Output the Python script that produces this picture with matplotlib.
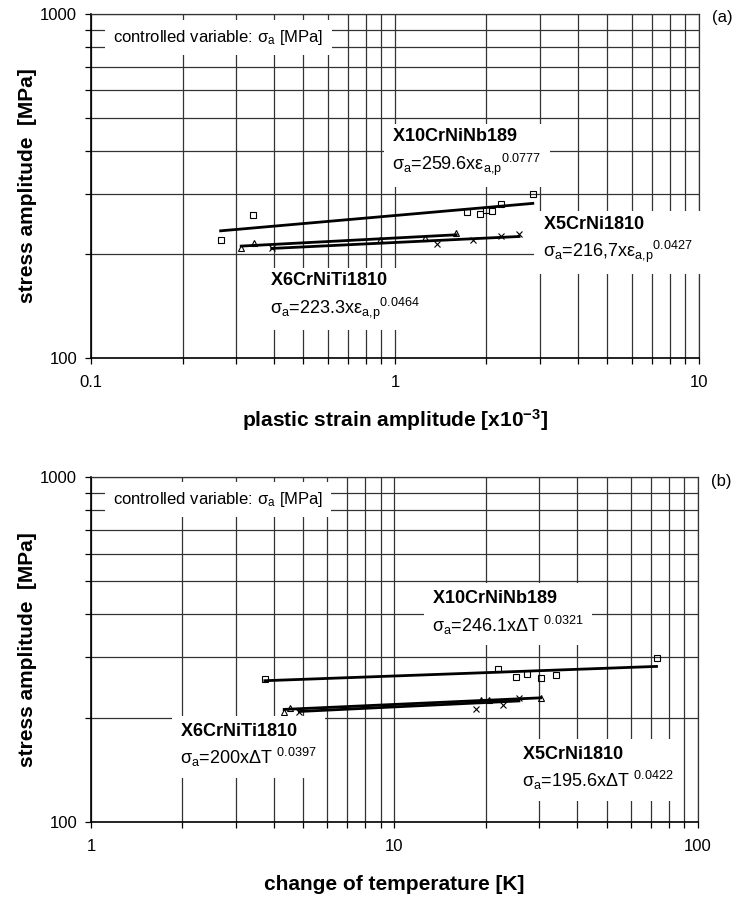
import numpy as np
import matplotlib
matplotlib.use("Agg")
import matplotlib.pyplot as plt
from matplotlib.ticker import LogLocator, FuncFormatter, NullFormatter

plt.rcParams['font.family'] = ['Liberation Sans', 'DejaVu Sans']
plt.rcParams['mathtext.fontset'] = 'custom'
plt.rcParams['mathtext.rm'] = 'Liberation Sans'
plt.rcParams['mathtext.it'] = 'Liberation Sans'
plt.rcParams['mathtext.bf'] = 'Liberation Sans:bold'
plt.rcParams['mathtext.default'] = 'regular'

# (a) stress amplitude [MPa] vs plastic strain amplitude [x10^-3]
nb_eps = [0.267, 0.340, 1.72, 1.91, 2.00, 2.08, 2.23, 2.84]
nb_sig_a = [220, 261, 265, 263, 270, 268, 281, 300]
ti_eps = [0.312, 0.344, 0.895, 1.255, 1.59]
ti_sig_a = [209, 216, 221, 224, 231]
ni_eps = [0.393, 1.378, 1.80, 2.23, 2.56]
ni_sig_a = [209, 214, 220, 226, 230]

# (b) stress amplitude [MPa] vs change of temperature [K]
nb_dT = [3.74, 21.9, 25.1, 27.3, 30.4, 34.1, 73.0]
nb_sig_b = [259, 278, 263, 268, 261, 267, 299]
ti_dT = [4.33, 4.54, 19.3, 20.5, 30.3]
ti_sig_b = [208, 214, 226, 226, 229]
ni_dT = [4.86, 18.5, 22.7, 25.7]
ni_sig_b = [208, 213, 219, 229]

# power-law fits sigma_a = K * x^n
fit_a = {"nb": (259.6, 0.0777), "ti": (223.3, 0.0464), "ni": (216.7, 0.0427)}
fit_b = {"nb": (246.1, 0.0321), "ti": (200.0, 0.0397), "ni": (195.6, 0.0422)}


def fit_line(ax, xs, coef):
    k, n = coef
    x = np.geomspace(min(xs), max(xs), 50)
    ax.plot(x, k * x ** n, color='k', lw=2.0, zorder=2.5)


def setup(ax, xlim, xlabel):
    ax.set_xscale('log')
    ax.set_yscale('log')
    ax.set_xlim(*xlim)
    ax.set_ylim(100, 1000)
    for axis in (ax.xaxis, ax.yaxis):
        axis.set_major_locator(LogLocator(base=10))
        axis.set_minor_locator(LogLocator(base=10, subs=np.arange(2, 10)))
        axis.set_major_formatter(FuncFormatter(lambda v, p: '%g' % v))
        axis.set_minor_formatter(NullFormatter())
    ax.grid(True, which='both', color='0.2', lw=0.9)
    ax.tick_params(which='both', direction='out', length=4, width=0.9,
                   labelsize=12, top=False, right=False)
    ax.tick_params(axis='x', which='major', pad=8)
    ax.tick_params(axis='y', which='major', pad=6)
    for s in ('left', 'bottom'):
        ax.spines[s].set_linewidth(1.2)
    for s in ('top', 'right'):
        ax.spines[s].set_linewidth(0.9)
        ax.spines[s].set_color('0.2')
    ax.set_xlabel(xlabel, fontsize=15, fontweight='bold', va='center')
    ax.xaxis.set_label_coords(0.5, -0.18)
    ax.set_ylabel('stress amplitude  [MPa]', fontsize=15, fontweight='bold',
                  va='center')
    ax.yaxis.set_label_coords(-0.104, 0.5)


def label(ax, x, y, txt):
    ax.text(x, y, txt, transform=ax.transAxes, fontsize=13, va='center',
            ha='left', linespacing=1.35, zorder=4,
            bbox=dict(facecolor='white', edgecolor='none', pad=6))


mk = dict(color='k', lw=0, markerfacecolor='none', markeredgewidth=0.8,
          zorder=3)

fig = plt.figure(figsize=(7.38, 9.0), dpi=100)

# ---- (a)
ax1 = fig.add_axes([0.1233, 0.6022, 0.8238, 0.3822])
setup(ax1, (0.1, 10), 'plastic strain amplitude [x10$^{-3}$]')
fit_line(ax1, nb_eps, fit_a["nb"])
fit_line(ax1, ti_eps, fit_a["ti"])
fit_line(ax1, ni_eps, fit_a["ni"])
ax1.plot(nb_eps, nb_sig_a, marker='s', markersize=5, **mk)
ax1.plot(ti_eps, ti_sig_a, marker='^', markersize=5, **mk)
ax1.plot(ni_eps, ni_sig_a, marker='x', markersize=5, **mk)

ax1.text(0.036, 0.932, 'controlled variable: σ$_a$ [MPa]', transform=ax1.transAxes,
         fontsize=12, va='center', zorder=4,
         bbox=dict(facecolor='white', edgecolor='none', pad=6))
label(ax1, 0.495, 0.595, '$\\mathbf{X10CrNiNb189}$\nσ$_a$=259.6xε$_{a{,}p}{}^{0.0777}$')
label(ax1, 0.743, 0.342, '$\\mathbf{X5CrNi1810}$\nσ$_a$=216,7xε$_{a{,}p}{}^{0.0427}$')
label(ax1, 0.294, 0.178, '$\\mathbf{X6CrNiTi1810}$\nσ$_a$=223.3xε$_{a{,}p}{}^{0.0464}$')
ax1.text(1.038, 0.99, '(a)', transform=ax1.transAxes, fontsize=12,
         va='center', ha='center')

# ---- (b)
ax2 = fig.add_axes([0.1233, 0.0867, 0.8225, 0.3833])
setup(ax2, (1, 100), 'change of temperature [K]')
fit_line(ax2, nb_dT, fit_b["nb"])
fit_line(ax2, ti_dT, fit_b["ti"])
fit_line(ax2, ni_dT, fit_b["ni"])
ax2.plot(nb_dT, nb_sig_b, marker='s', markersize=5, **mk)
ax2.plot(ti_dT, ti_sig_b, marker='^', markersize=5, **mk)
ax2.plot(ni_dT, ni_sig_b, marker='x', markersize=5, **mk)

ax2.text(0.036, 0.935, 'controlled variable: σ$_a$ [MPa]', transform=ax2.transAxes,
         fontsize=12, va='center', zorder=4,
         bbox=dict(facecolor='white', edgecolor='none', pad=6))
label(ax2, 0.5625, 0.604, '$\\mathbf{X10CrNiNb189}$\nσ$_a$=246.1xΔT ${}^{0.0321}$')
label(ax2, 0.1466, 0.22, '$\\mathbf{X6CrNiTi1810}$\nσ$_a$=200xΔT ${}^{0.0397}$')
label(ax2, 0.71, 0.153, '$\\mathbf{X5CrNi1810}$\nσ$_a$=195.6xΔT ${}^{0.0422}$')
ax2.text(1.038, 0.986, '(b)', transform=ax2.transAxes, fontsize=12,
         va='center', ha='center')

fig.savefig('out.png', dpi=100)
